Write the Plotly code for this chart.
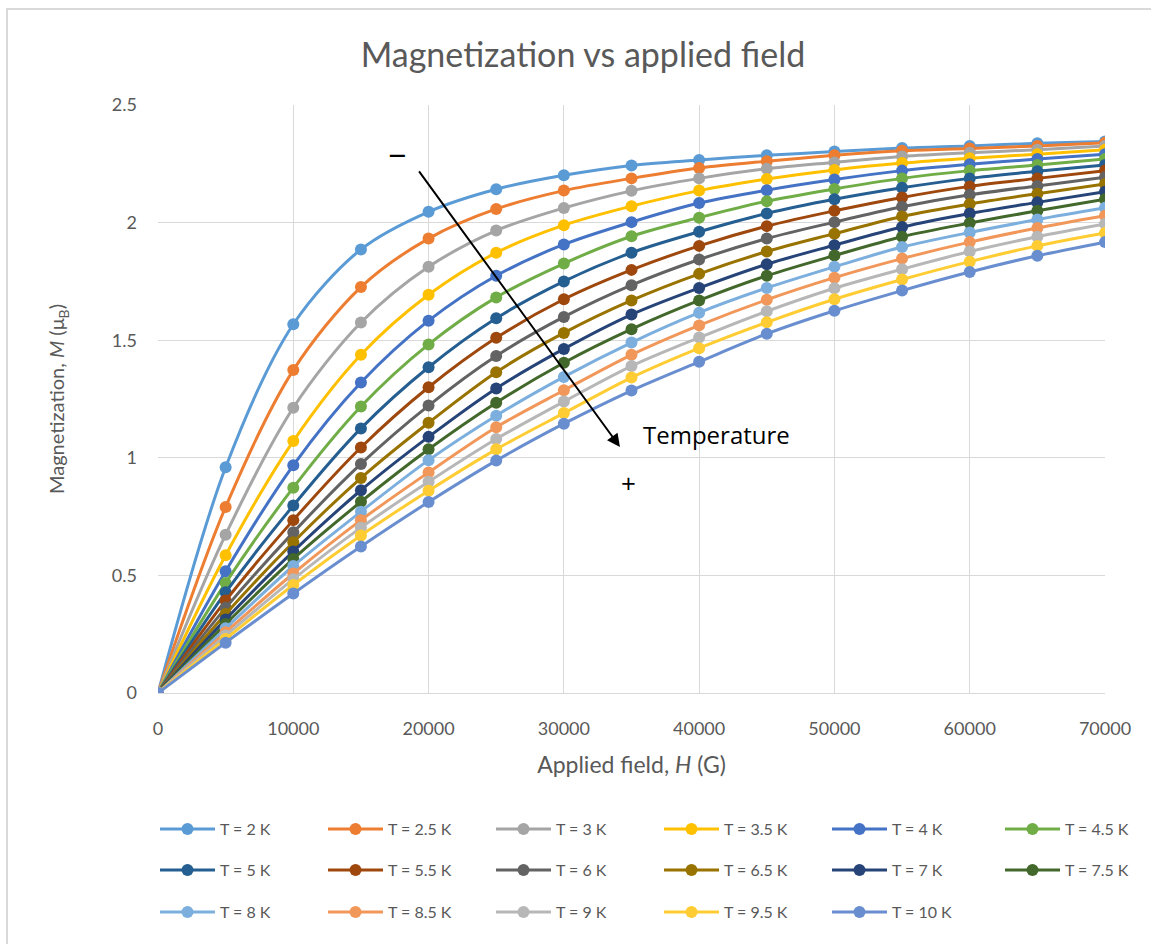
import plotly.graph_objects as go

field_G = [0, 5000, 10000, 15000, 20000, 25000, 30000, 35000, 40000, 45000, 50000, 55000, 60000, 65000, 70000]

temps_K = ["2", "2.5", "3", "3.5", "4", "4.5", "5", "5.5", "6", "6.5", "7", "7.5", "8", "8.5", "9", "9.5", "10"]

m_T2 = [0, 0.960, 1.568, 1.886, 2.046, 2.142, 2.201, 2.243, 2.266, 2.286, 2.302, 2.317, 2.326, 2.337, 2.345]
m_T2_5 = [0, 0.791, 1.373, 1.726, 1.932, 2.058, 2.136, 2.188, 2.232, 2.261, 2.286, 2.305, 2.315, 2.326, 2.339]
m_T3 = [0, 0.673, 1.213, 1.575, 1.812, 1.966, 2.062, 2.135, 2.188, 2.229, 2.256, 2.281, 2.297, 2.310, 2.326]
m_T3_5 = [0, 0.586, 1.071, 1.438, 1.693, 1.872, 1.989, 2.070, 2.136, 2.185, 2.224, 2.253, 2.274, 2.291, 2.310]
m_T4 = [0, 0.518, 0.968, 1.320, 1.583, 1.774, 1.907, 2.002, 2.083, 2.138, 2.183, 2.221, 2.248, 2.270, 2.291]
m_T4_5 = [0, 0.468, 0.873, 1.218, 1.482, 1.682, 1.826, 1.942, 2.021, 2.091, 2.143, 2.188, 2.221, 2.245, 2.270]
m_T5 = [0, 0.428, 0.797, 1.125, 1.385, 1.593, 1.750, 1.872, 1.961, 2.039, 2.099, 2.148, 2.188, 2.218, 2.245]
m_T5_5 = [0, 0.393, 0.735, 1.044, 1.300, 1.510, 1.674, 1.799, 1.901, 1.985, 2.050, 2.107, 2.154, 2.188, 2.221]
m_T6 = [0, 0.362, 0.683, 0.974, 1.222, 1.433, 1.599, 1.734, 1.843, 1.932, 2.002, 2.067, 2.118, 2.156, 2.193]
m_T6_5 = [0, 0.336, 0.641, 0.914, 1.149, 1.364, 1.531, 1.669, 1.782, 1.877, 1.953, 2.026, 2.079, 2.123, 2.164]
m_T7 = [0, 0.313, 0.602, 0.862, 1.089, 1.295, 1.463, 1.609, 1.722, 1.823, 1.904, 1.981, 2.039, 2.086, 2.131]
m_T7_5 = [0, 0.293, 0.570, 0.813, 1.036, 1.234, 1.404, 1.547, 1.669, 1.774, 1.860, 1.940, 1.998, 2.050, 2.099]
m_T8 = [0, 0.275, 0.540, 0.771, 0.990, 1.179, 1.344, 1.490, 1.617, 1.722, 1.812, 1.896, 1.958, 2.013, 2.063]
m_T8_5 = [0, 0.258, 0.508, 0.735, 0.938, 1.130, 1.287, 1.438, 1.563, 1.672, 1.766, 1.847, 1.917, 1.977, 2.029]
m_T9 = [0, 0.244, 0.484, 0.703, 0.898, 1.080, 1.239, 1.390, 1.511, 1.623, 1.721, 1.802, 1.877, 1.940, 1.994]
m_T9_5 = [0, 0.230, 0.459, 0.670, 0.860, 1.036, 1.190, 1.341, 1.466, 1.576, 1.674, 1.758, 1.834, 1.901, 1.956]
m_T10 = [0, 0.214, 0.423, 0.623, 0.812, 0.988, 1.145, 1.286, 1.408, 1.527, 1.625, 1.711, 1.790, 1.859, 1.917]

series = [m_T2, m_T2_5, m_T3, m_T3_5, m_T4, m_T4_5, m_T5, m_T5_5, m_T6, m_T6_5,
          m_T7, m_T7_5, m_T8, m_T8_5, m_T9, m_T9_5, m_T10]

colors = ["#5B9BD5", "#ED7D31", "#A5A5A5", "#FFC000", "#4472C4", "#70AD47",
          "#255E91", "#9E480E", "#636363", "#997300", "#264478", "#43682B",
          "#7CAFDD", "#F1975A", "#B7B7B7", "#FFCD33", "#698ED0"]

FONT = "Lato"
GREY = "#595959"

W, H = 1151, 944
L, R, T, B = 158, 46, 105, 251
pw, ph = W - L - R, H - T - B

def py(pix):
    return (H - B - pix) / ph

def px(pix):
    return (pix - L) / pw

# legend layout: rows of 6, 6, 5; the 6th entry of a row goes to its own legend
def legend_key(i):
    row, col = divmod(i, 6)
    if col < 5:
        idx = 1 + row * 2
    else:
        idx = 2 + row * 2
    return "legend" if idx == 1 else f"legend{idx}"

fig = go.Figure()
for i, (t, m, c) in enumerate(zip(temps_K, series, colors)):
    fig.add_trace(go.Scatter(
        x=field_G, y=m, name=f"T = {t} K",
        mode="lines+markers",
        line=dict(color=c, width=3, shape="spline", smoothing=0.9),
        marker=dict(color=c, size=12),
        legend=legend_key(i),
    ))

def leg(xpix, ypix, ew=98):
    return dict(orientation="h", xanchor="left", yanchor="middle",
                x=px(xpix), y=py(ypix), entrywidth=ew, entrywidthmode="pixels",
                font=dict(family=FONT, size=16, color=GREY),
                bgcolor="rgba(0,0,0,0)", itemwidth=55)

row_y = [829, 870, 912]

fig.update_layout(
    width=W, height=H,
    margin=dict(l=L, r=R, t=T, b=B, autoexpand=False),
    paper_bgcolor="white", plot_bgcolor="white",
    font=dict(family=FONT, color=GREY),
    title=dict(text="Magnetization vs applied field", x=583 / W, xanchor="center",
               xref="container",
               y=1 - 55 / H, yanchor="middle", yref="container",
               font=dict(family=FONT, size=34, color=GREY)),
    xaxis=dict(range=[0, 70000], dtick=10000, tick0=0, showgrid=True,
               gridcolor="#D9D9D9", gridwidth=1, zeroline=False,
               showline=True, linecolor="#D9D9D9", linewidth=1,
               ticks="", tickformat="d", tickfont=dict(family=FONT, size=18, color=GREY),
               ticklabelstandoff=19,
               title=dict(text="Applied field, <i>H</i> (G)", standoff=19,
                          font=dict(family=FONT, size=23, color=GREY))),
    yaxis=dict(range=[0, 2.5], dtick=0.5, tick0=0, showgrid=True,
               gridcolor="#D9D9D9", gridwidth=1, zeroline=False,
               showline=False, ticks="",
               tickfont=dict(family=FONT, size=18, color=GREY),
               ticklabelstandoff=20,
               title=dict(text="Magnetization, <i>M</i> (μ<sub>B</sub>)", standoff=41,
                          font=dict(family=FONT, size=20, color=GREY))),
    legend=leg(155, row_y[0]),
    legend2=leg(1000, row_y[0], ew=80),
    legend3=leg(155, row_y[1]),
    legend4=leg(1000, row_y[1], ew=80),
    legend5=leg(155, row_y[2]),
    showlegend=True,
)

# chart border (Excel chart area outline)
fig.add_shape(type="rect", xref="paper", yref="paper",
              x0=px(7), x1=px(1200), y0=py(1000), y1=py(9),
              line=dict(color="#D9D9D9", width=2), fillcolor="rgba(0,0,0,0)", layer="below")

# temperature arrow and labels
fig.add_annotation(x=34146, y=1.046, ax=19217, ay=2.224, xref="x", yref="y",
                   axref="x", ayref="y", showarrow=True, arrowhead=2,
                   arrowsize=1.3, arrowwidth=2, arrowcolor="black", text="")
fig.add_annotation(x=17660, y=2.288, text="−", showarrow=False,
                   font=dict(family="Open Sans", size=32, color="black"))
fig.add_annotation(x=34810, y=0.893, text="+", showarrow=False,
                   font=dict(family="Open Sans", size=26, color="black"))
fig.add_annotation(x=35700, y=1.097, text="Temperature", showarrow=False,
                   xanchor="left",
                   font=dict(family="Open Sans", size=24, color="black"))

fig.write_html("out.html", config={"displayModeBar": False},
               post_script="document.body.style.margin='0px';")
